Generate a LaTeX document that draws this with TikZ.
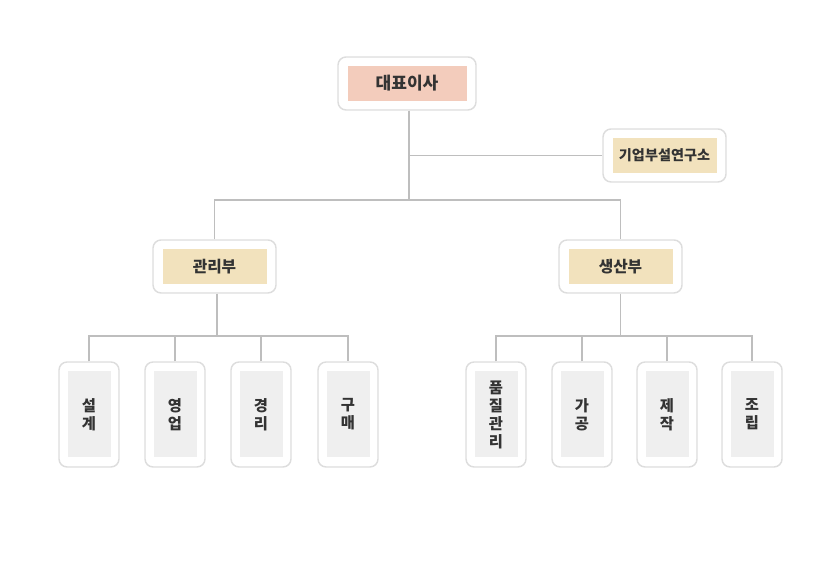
\documentclass[tikz,border=0pt]{standalone}
\usepackage{fontspec}
\setmainfont{Noto Sans CJK KR}
\definecolor{boxline}{RGB}{221,221,221}
\definecolor{conline}{RGB}{190,190,190}
\definecolor{ceofill}{RGB}{243,204,188}
\definecolor{deptfill}{RGB}{242,226,189}
\definecolor{leaffill}{RGB}{239,239,239}
\definecolor{txt}{RGB}{51,51,51}
\tikzset{every picture/.style={line width=0.75pt}}
\tikzset{
  outerbox/.style={draw=boxline, fill=white, rounded corners=6, line width=1.1pt},
  innerbox/.style={fill=#1, inner sep=0pt, text=txt, font=\bfseries},
  conn/.style={draw=conline, line width=1.1pt},
}

\begin{document}
\begin{tikzpicture}[x=0.75pt,y=0.75pt,yscale=-1,xscale=1]
\path [use as bounding box] (0,0) rectangle (829,580);

% outer boxes
\node [outerbox, minimum width=103.5pt, minimum height=39.75pt] (ceo) at (407,83.5) {};
\node [outerbox, minimum width=92.25pt, minimum height=39.75pt] (lab) at (664.5,155.5) {};
\node [outerbox, minimum width=92.25pt, minimum height=39.75pt] (mgmt) at (214.5,266.5) {};
\node [outerbox, minimum width=92.25pt, minimum height=39.75pt] (prod) at (620.5,266.5) {};
\foreach \nm/\cx in {sg/89,yu/175,gr/261,gm/348,pq/496,ga/582,jj/667,jr/752}
  \node [outerbox, minimum width=45pt, minimum height=78.75pt] (\nm) at (\cx,414.5) {};

% inner labels
\node [innerbox=ceofill, minimum width=89.25pt, minimum height=26.25pt, font=\bfseries\fontsize{12.8}{15}\selectfont] at (ceo) {대표이사};
\node [innerbox=deptfill, minimum width=78pt, minimum height=26.25pt, font=\bfseries\fontsize{10.6}{12}\selectfont] at (lab) {기업부설연구소};
\node [innerbox=deptfill, minimum width=78pt, minimum height=26.25pt, font=\bfseries\fontsize{11.8}{13}\selectfont] at (mgmt) {관리부};
\node [innerbox=deptfill, minimum width=78pt, minimum height=26.25pt, font=\bfseries\fontsize{11.8}{13}\selectfont] at (prod) {생산부};
\foreach \nm/\lbl in {sg/{설\\계},yu/{영\\업},gr/{경\\리},gm/{구\\매},pq/{품\\질\\관\\리},ga/{가\\공},jj/{제\\작},jr/{조\\립}}
  \node [innerbox=leaffill, minimum width=32.25pt, minimum height=64.5pt, align=center, font=\bfseries\fontsize{11.5}{13.5}\selectfont] at (\nm) {\lbl};

% connectors
\coordinate (trunk) at (409,200);
\coordinate (labjoin) at (409,155.5);
\draw [conn] (ceo.south -| trunk) -- (trunk);
\draw [conn] (labjoin) -- (lab.west);
\draw [conn] (mgmt.north) |- (trunk) -| (prod.north);
\coordinate (lbus) at (217,336);
\coordinate (rbus) at (620.5,336);
\draw [conn] (mgmt.south -| lbus) -- (lbus);
\draw [conn] (prod.south) -- (rbus);
\draw [conn] (sg.north) |- (lbus) -| (gm.north);
\draw [conn] (yu.north) -- (yu.north |- lbus);
\draw [conn] (gr.north) -- (gr.north |- lbus);
\draw [conn] (pq.north) |- (rbus) -| (jr.north);
\draw [conn] (ga.north) -- (ga.north |- rbus);
\draw [conn] (jj.north) -- (jj.north |- rbus);

\end{tikzpicture}
\end{document}
